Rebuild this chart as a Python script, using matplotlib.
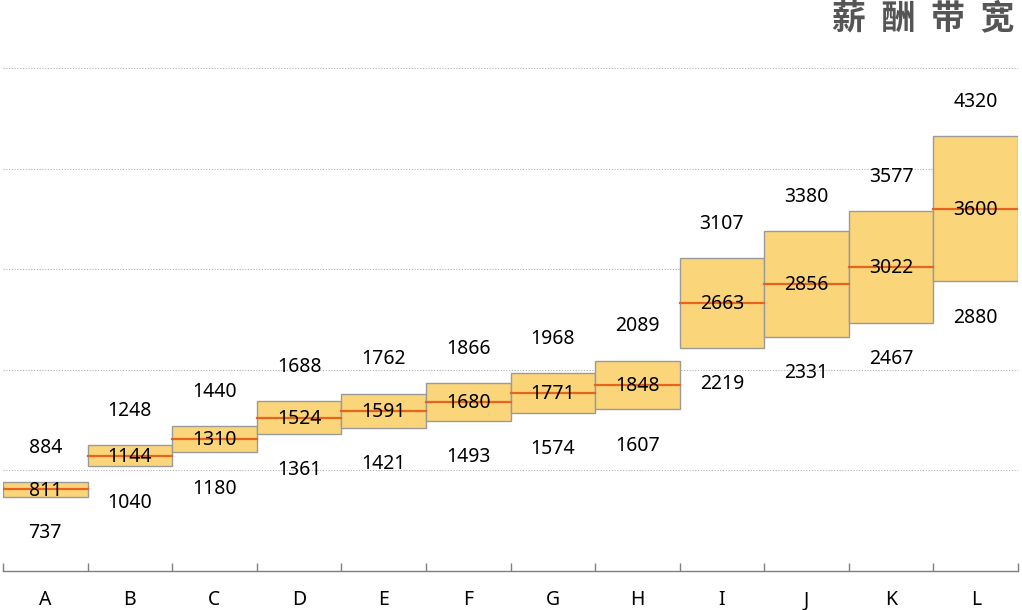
import matplotlib
matplotlib.use("Agg")
import matplotlib.pyplot as plt
from matplotlib.patches import Rectangle

plt.rcParams['font.family'] = ['Noto Sans', 'Noto Sans CJK SC', 'DejaVu Sans']

categories = ["A", "B", "C", "D", "E", "F", "G", "H", "I", "J", "K", "L"]
min_vals = [737, 1040, 1180, 1361, 1421, 1493, 1574, 1607, 2219, 2331, 2467, 2880]
mid_vals = [811, 1144, 1310, 1524, 1591, 1680, 1771, 1848, 2663, 2856, 3022, 3600]
max_vals = [884, 1248, 1440, 1688, 1762, 1866, 1968, 2089, 3107, 3380, 3577, 4320]
title = "薪酬带宽"

W, H = 1022, 610
fig = plt.figure(figsize=(W / 100, H / 100), dpi=100)
ax = fig.add_axes([3 / W, (H - 571) / H, 1015 / W, 503 / H])
ax.set_xlim(0, len(categories))
ax.set_ylim(0, 5000)

for y in [1000, 2000, 3000, 4000, 5000]:
    ax.axhline(y, color='#b0b0b0', lw=0.8, ls=(0, (1, 1.5)), zorder=0)

fill = '#FAD57A'
edge = '#9a9a9a'
mid_c = '#E8641E'
fs = 14
for i, (lo, md, hi) in enumerate(zip(min_vals, mid_vals, max_vals)):
    ax.add_patch(Rectangle((i, lo), 1, hi - lo, facecolor=fill, edgecolor=edge, lw=1.0, zorder=2))
    ax.plot([i, i + 1], [md, md], color=mid_c, lw=1.6, zorder=3)
    ax.annotate(str(md), (i + 0.5, md), xytext=(0, -0.8), textcoords='offset points',
                ha='center', va='center', fontsize=fs, color='#000000', zorder=4)
    ax.annotate(str(hi), (i + 0.5, hi), xytext=(0, 24.8), textcoords='offset points',
                ha='center', va='center', fontsize=fs, color='#000000')
    ax.annotate(str(lo), (i + 0.5, lo), xytext=(0, -26.2), textcoords='offset points',
                ha='center', va='center', fontsize=fs, color='#000000')

for s in ['top', 'right', 'left']:
    ax.spines[s].set_visible(False)
ax.spines['bottom'].set_color('#7f7f7f')
ax.spines['bottom'].set_linewidth(1.0)
ax.set_yticks([])
ax.set_xticks(range(len(categories) + 1))
ax.set_xticklabels([])
ax.tick_params(axis='x', direction='in', length=6, color='#7f7f7f', width=1.0)
for i, c in enumerate(categories):
    ax.text(i + 0.5, -0.058, c, transform=ax.get_xaxis_transform(), ha='center', va='center',
            fontsize=fs, color='#000000')

# Title with spaced characters
fig.text(1014 / W, 1 - 18 / H, "  ".join(title), ha='right', va='center', fontsize=24.5,
         fontweight='bold', color='#555555', family=['Noto Sans CJK SC', 'DejaVu Sans'])

fig.savefig('out.png', dpi=100)
